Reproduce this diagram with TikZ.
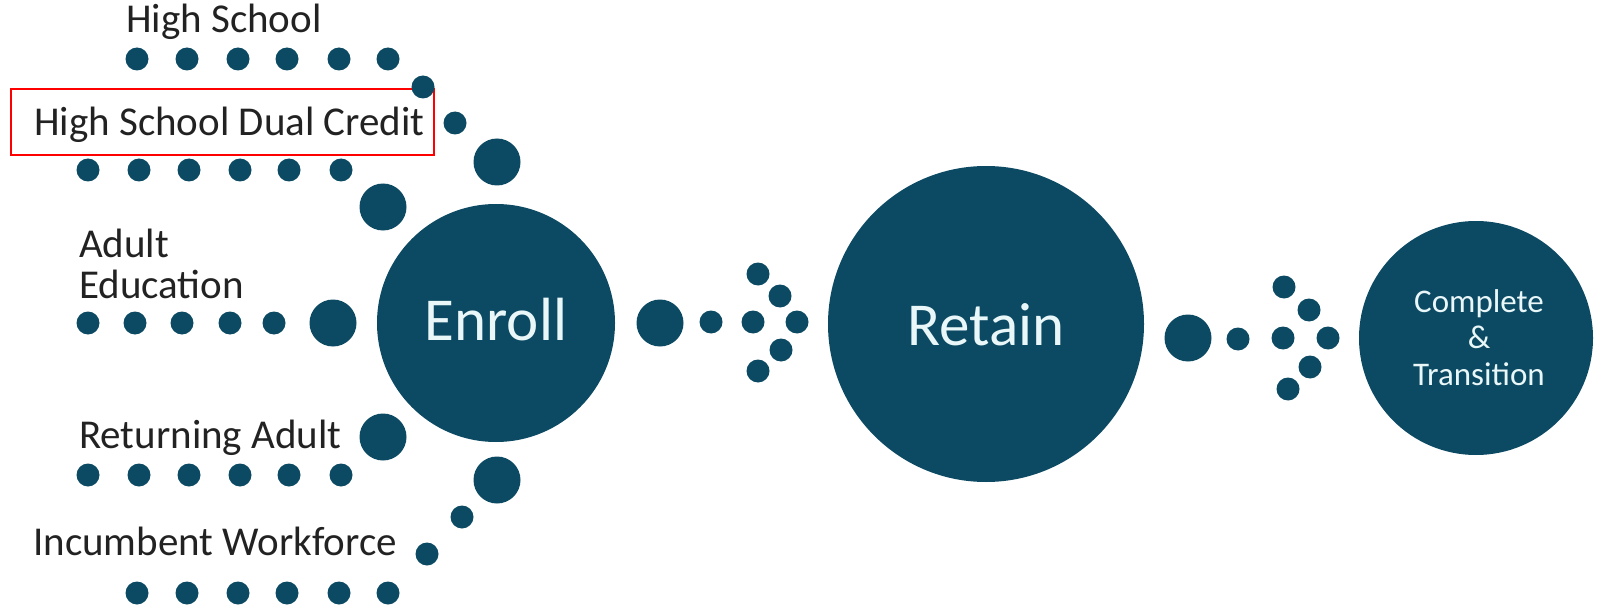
\documentclass[tikz,border=0pt]{standalone}
\usepackage{fontspec}
\setmainfont{Carlito}
\definecolor{deepteal}{HTML}{0C4A64}
\definecolor{paletext}{HTML}{E9F7F8}
\definecolor{labelgray}{HTML}{222222}
\begin{document}
\begin{tikzpicture}[x=1pt,y=-1pt,
  dot/.style={circle,fill=deepteal,draw=none,inner sep=0pt,minimum size=23pt},
  bigdot/.style={circle,fill=deepteal,draw=none,inner sep=0pt,minimum size=47pt},
  stage/.style={circle,fill=deepteal,draw=none,inner sep=0pt},
  lbl/.style={anchor=base west,inner sep=0pt,text=labelgray,font=\fontsize{41}{46}\selectfont},
  stagetext/.style={anchor=base,inner sep=0pt,text=paletext},
  highlight/.style={draw=red,line width=1.6pt}]
\useasboundingbox (0,0) rectangle (1599,607);

% ---- source labels ----
\node[lbl] (hs) at (126,33) {High School};
\node[lbl] (dual) at (34,136) {High School Dual Credit};
\node[lbl] (adult1) at (79,257) {Adult};
\node[lbl] (adult2) at (79,298) {Education};
\node[lbl] (ret) at (79,448) {Returning Adult};
\node[lbl] (inc) at (33,555) {Incumbent Workforce};
\draw[highlight] (11,89) rectangle (434,155);

% ---- dotted rows under each label ----
\foreach \x [count=\i] in {137,187,238,287,339,388} {
  \node[dot] (hsd\i) at (\x,59) {};
  \node[dot] (incd\i) at (\x,593) {};
}
\foreach \x [count=\i] in {88,139,189,240,289,341} {
  \node[dot] (duald\i) at (\x,170) {};
  \node[dot] (retd\i) at (\x,475) {};
}
\foreach \x [count=\i] in {88,135,182,230,274} {
  \node[dot] (adud\i) at (\x,323) {};
}

% ---- dots converging on Enroll ----
\node[dot] (up1) at (423,87) {};
\node[dot] (up2) at (455,123) {};
\node[bigdot] (up3) at (497,162) {};
\node[bigdot] (up4) at (383,207) {};
\node[bigdot] (mid) at (333,323) {};
\node[bigdot] (lo4) at (383,437) {};
\node[bigdot] (lo3) at (497,480) {};
\node[dot] (lo2) at (462,517) {};
\node[dot] (lo1) at (427,554) {};

% ---- stages ----
\node[stage,minimum size=238pt] (enroll) at (496,323) {};
\node[stagetext,font=\fontsize{61}{66}\selectfont] (enrolltxt) at (496,340) {Enroll};

\node[stage,minimum size=316pt] (retain) at (986,324) {};
\node[stagetext,font=\fontsize{61}{66}\selectfont] (retaintxt) at (986,345) {Retain};

\node[stage,minimum size=234pt] (complete) at (1476,338) {};
\node[stagetext,font=\fontsize{33}{37}\selectfont] (ct1) at (1479,312) {Complete};
\node[stagetext,font=\fontsize{33}{37}\selectfont] (ct2) at (1479,348) {\&};
\node[stagetext,font=\fontsize{33}{37}\selectfont] (ct3) at (1479,385) {Transition};

% ---- dotted arrow: Enroll to Retain ----
\node[bigdot] (a0) at (660,323) {};
\node[dot] (a1) at (711,322) {};
\node[dot] (a2) at (758,274) {};
\node[dot] (a3) at (780,296) {};
\node[dot] (a4) at (753,322) {};
\node[dot] (a5) at (797,322) {};
\node[dot] (a6) at (781,350) {};
\node[dot] (a7) at (758,371) {};

% ---- dotted arrow: Retain to Complete ----
\node[bigdot] (b0) at (1188,338) {};
\node[dot] (b1) at (1238,339) {};
\node[dot] (b2) at (1284,287) {};
\node[dot] (b3) at (1309,310) {};
\node[dot] (b4) at (1283,338) {};
\node[dot] (b5) at (1328,338) {};
\node[dot] (b6) at (1310,367) {};
\node[dot] (b7) at (1288,389) {};
\end{tikzpicture}
\end{document}
